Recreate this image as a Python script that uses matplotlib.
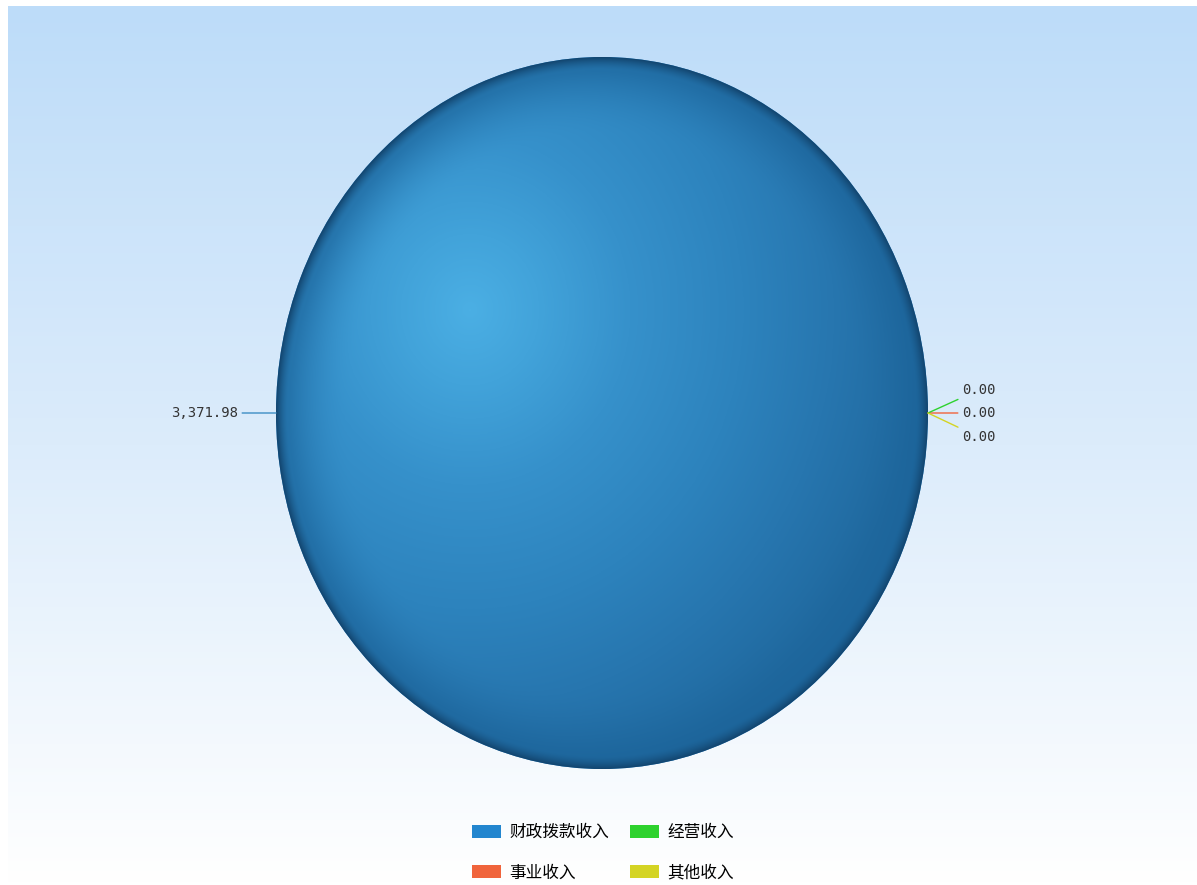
import numpy as np
import matplotlib.pyplot as plt
from matplotlib.colors import LinearSegmentedColormap, to_rgb

plt.rcParams['font.family'] = ['Noto Sans CJK SC', 'DejaVu Sans']

# 数据
categorias = ['财政拨款收入', '事业收入', '经营收入', '其他收入']
valores = [3371.98, 0.0, 0.0, 0.0]
colores = ['#2386CF', '#F0643C', '#2ED22E', '#D4D424']
etiquetas = ['3,371.98', '0.00', '0.00', '0.00']

W, H = 1197, 885
fig = plt.figure(figsize=(W / 100, H / 100), dpi=100)
fig.patch.set_facecolor('white')

# fondo con degradado vertical
ax_bg = fig.add_axes([8 / W, 0, 1 - 8 / W, 1 - 6 / H])
grad = np.linspace(0, 1, 256).reshape(-1, 1)
cmap_bg = LinearSegmentedColormap.from_list('bg', ['#BDDCF9', '#DCECFB', '#FFFFFF'])
ax_bg.imshow(grad, aspect='auto', cmap=cmap_bg, extent=(0, 1, 0, 1), origin='upper')
ax_bg.set_axis_off()

# eje del pastel (elipse: se estira con aspect auto)
cx, cy, rx, ry = 602, 413, 326, 356
ax = fig.add_axes([(cx - rx) / W, (H - cy - ry) / H, 2 * rx / W, 2 * ry / H])
ax.set_facecolor('none')
wedges, _ = ax.pie(valores, colors=colores, startangle=0, radius=1,
                   wedgeprops=dict(linewidth=0))
ax.set_aspect('auto')
ax.set_xlim(-1, 1)
ax.set_ylim(-1, 1)
ax.set_axis_off()

# sombreado radial recortado a la porción
n = 700
xs = np.linspace(-1, 1, n)
X, Y = np.meshgrid(xs, xs[::-1])
hx, hy = -0.405, 0.29
d = np.sqrt((X - hx) ** 2 + (Y - hy) ** 2)
r = np.sqrt(X ** 2 + Y ** 2)
cmap_pie = LinearSegmentedColormap.from_list(
    'pie', [(0, '#4BAFE4'), (0.15, '#42A3DA'), (0.35, '#3691CB'), (0.6, '#2D83BD'),
            (0.8, '#2776AF'), (1, '#20699F')])
rgb = cmap_pie(np.clip(d / 1.4, 0, 1))[..., :3]
sombra = np.array(to_rgb('#1B6399'))
t1 = np.clip((r - 0.78) / 0.18, 0, 1)[..., None] ** 2 * 0.6
rgb = rgb * (1 - t1) + sombra * t1
borde = np.array(to_rgb('#134670'))
t = np.clip((r - 0.965) / 0.035, 0, 1)[..., None] ** 1.5
rgb = rgb * (1 - t) + borde * t
for w in wedges[:1]:
    im = ax.imshow(rgb, extent=(-1, 1, -1, 1), aspect='auto', zorder=3)
    im.set_clip_path(w)

# etiquetas con líneas guía
lado = []
for w in wedges:
    ang = np.radians((w.theta1 + w.theta2) / 2)
    lado.append((np.cos(ang), np.sin(ang)))

offs = [(-38, 0), (34, 0), (34, 23), (34, -24)]
for i, (px, py) in enumerate(lado):
    dx, dy = offs[i]
    ax.annotate(etiquetas[i], xy=(px, py), xytext=(dx, dy), textcoords='offset pixels',
                ha='right' if dx < 0 else 'left', va='center',
                fontsize=10, family='DejaVu Sans Mono', color='#333333', zorder=5,
                arrowprops=dict(arrowstyle='-', color=colores[i] if i else '#3C8DC4',
                                lw=1, shrinkA=1, shrinkB=0))

fig.legend(wedges, categorias, loc='upper center', bbox_to_anchor=(603 / W, 1 - 809 / H),
           ncol=2, frameon=False, fontsize=12, handlelength=1.7, handleheight=0.85,
           columnspacing=1.3, labelspacing=1.4, handletextpad=0.5)

fig.savefig('out.png', dpi=100)
